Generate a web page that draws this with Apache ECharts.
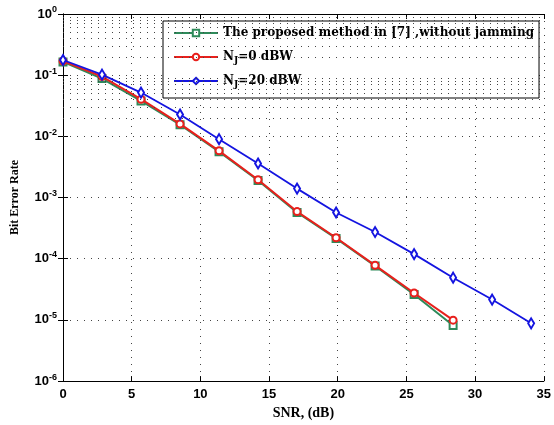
<!DOCTYPE html>
<html>
<head>
<meta charset="utf-8">
<script src="https://cdn.jsdelivr.net/npm/echarts@6/dist/echarts.min.js"></script>
<style>
  html, body { margin: 0; padding: 0; background: #fff; }
  #main { width: 554px; height: 425px; }
</style>
</head>
<body>
<div id="main"></div>
<script>
// SNR points (dB)
const SNR_SHORT = [0, 2.84, 5.68, 8.52, 11.36, 14.2, 17.04, 19.88, 22.72, 25.56, 28.4]
const SNR_LONG = [0, 2.84, 5.68, 8.52, 11.36, 14.2, 17.04, 19.88, 22.72, 25.56, 28.4, 31.24, 34.08]
// bit error rates
const BER_REF = [0.165, 0.088, 0.038, 0.0155, 0.0056, 0.0019, 5.7e-4, 2.15e-4, 7.6e-5, 2.6e-5, 8.1e-6]
const BER_NJ0 = [0.17, 0.095, 0.0405, 0.016, 0.0058, 0.00195, 5.9e-4, 2.2e-4, 7.8e-5, 2.75e-5, 9.9e-6]
const BER_NJ20 = [0.177, 0.102, 0.052, 0.0228, 0.009, 0.0036, 0.0014, 5.7e-4, 2.73e-4, 1.19e-4, 4.9e-5, 2.15e-5, 8.8e-6]
const NAMES = ['The proposed method in [7] ,without jamming', 'N_J=0 dBW', 'N_J=20 dBW']
const Y_DECADES = [-6, -5, -4, -3, -2, -1, 0]

// minor grid lines at 2..9 of every decade
const minorLines = []
Y_DECADES.slice(0, -1).forEach(function (e) {
  for (let k = 2; k <= 9; k++) minorLines.push({ yAxis: k * Math.pow(10, e) })
})

const pairs = (xs, ys) => ys.map((y, i) => [xs[i], y])

var myChart = echarts.init(document.getElementById('main'), null, { renderer: 'canvas' })

const dotted = { color: '#444', width: 1, type: [1, 6] }
const tickFont = { fontFamily: 'Liberation Sans', fontWeight: 'bold', fontSize: 13, color: '#000' }

let option = {
  backgroundColor: '#fff',
  animation: false,
  grid: { left: 63, right: 10, top: 14, bottom: 36 },
  legend: {
    orient: 'vertical',
    left: 163,
    top: 21,
    padding: [4, 5, 9, 10],
    itemWidth: 44,
    itemHeight: 8,
    itemGap: 8,
    backgroundColor: '#fff',
    borderColor: '#000',
    borderWidth: 1,
    data: NAMES,
    formatter: function (name) {
      if (name.indexOf('N_J') === 0) return 'N{sub|J}' + name.slice(3)
      return name
    },
    textStyle: {
      fontFamily: 'DejaVu Serif',
      fontWeight: 'bold',
      fontSize: 12,
      lineHeight: 16,
      color: '#000',
      rich: {
        sub: { fontFamily: 'DejaVu Serif', fontWeight: 'bold', fontSize: 9, lineHeight: 9, verticalAlign: 'bottom', padding: [7, 0, 0, 0] }
      }
    }
  },
  xAxis: [{
    type: 'value',
    min: 0, max: 35, interval: 5,
    name: 'SNR, (dB)',
    nameLocation: 'middle',
    nameGap: 22,
    nameTextStyle: { fontFamily: 'Liberation Serif', fontWeight: 'bold', fontSize: 14, color: '#000' },
    axisLine: { lineStyle: { color: '#000', width: 1 } },
    axisTick: { inside: true, length: 5, lineStyle: { color: '#000' } },
    axisLabel: Object.assign({ margin: 7 }, tickFont),
    splitLine: { show: true, lineStyle: dotted }
  }, {
    type: 'value', position: 'top',
    min: 0, max: 35, interval: 5,
    axisLine: { lineStyle: { color: '#000', width: 1 } },
    axisTick: { inside: true, length: 5, lineStyle: { color: '#000' } },
    axisLabel: { show: false },
    splitLine: { show: false }
  }],
  yAxis: [{
    type: 'log',
    logBase: 10,
    min: 1e-6, max: 1,
    name: 'Bit Error Rate',
    nameLocation: 'middle',
    nameGap: 42,
    nameTextStyle: { fontFamily: 'Liberation Serif', fontWeight: 'bold', fontSize: 12, color: '#000' },
    axisLine: { show: true, lineStyle: { color: '#000', width: 1 } },
    axisTick: { show: true, inside: true, length: 5, lineStyle: { color: '#000' } },
    axisLabel: {
      margin: 6,
      formatter: function (v) { return '{b|10}{s|' + Math.round(Math.log10(v)) + '}' },
      rich: {
        b: tickFont,
        s: { fontFamily: 'Liberation Sans', fontWeight: 'bold', fontSize: 9, color: '#000', verticalAlign: 'top', padding: [0, 0, 8, 0] }
      }
    },
    splitLine: { show: true, lineStyle: dotted }
  }, {
    type: 'log', logBase: 10, position: 'right',
    min: 1e-6, max: 1,
    axisLine: { show: true, lineStyle: { color: '#000', width: 1 } },
    axisTick: { show: true, inside: true, length: 5, lineStyle: { color: '#000' } },
    axisLabel: { show: false },
    splitLine: { show: false }
  }],
  series: [
    {
      name: NAMES[0],
      type: 'line',
      data: pairs(SNR_SHORT, BER_REF),
      symbol: 'emptyRect',
      symbolSize: 7,
      color: '#2e8a5a',
      lineStyle: { width: 2, color: '#2e8a5a' },
      itemStyle: { borderWidth: 1.8 },
      markLine: {
        silent: true,
        symbol: 'none',
        label: { show: false },
        lineStyle: dotted,
        data: minorLines
      },
      z: 3
    },
    {
      name: NAMES[1],
      type: 'line',
      data: pairs(SNR_SHORT, BER_NJ0),
      symbol: 'emptyCircle',
      symbolSize: 7,
      color: '#e8201c',
      lineStyle: { width: 2, color: '#e8201c' },
      itemStyle: { borderWidth: 1.8 },
      z: 4
    },
    {
      name: NAMES[2],
      type: 'line',
      data: pairs(SNR_LONG, BER_NJ20),
      symbol: 'emptyDiamond',
      symbolSize: [6, 10],
      color: '#1414e0',
      lineStyle: { width: 1.8, color: '#1414e0' },
      itemStyle: { borderWidth: 1.8 },
      z: 5
    }
  ]
}
option && myChart.setOption(option)
</script>
</body>
</html>
